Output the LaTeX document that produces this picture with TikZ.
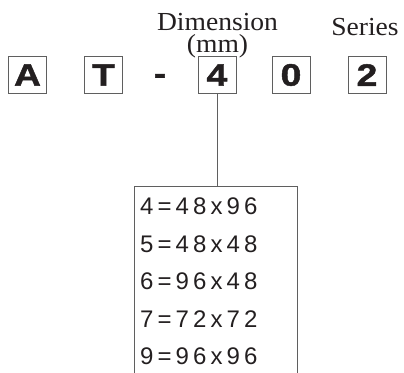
\documentclass[tikz,border=0pt]{standalone}
\usepackage{fontspec}
\setmainfont{Liberation Serif}
\newfontfamily\capfont{Liberation Serif}[FakeStretch=1.06]
\newfontfamily\codefont{Liberation Sans}[BoldFeatures={FakeStretch=1.2,FakeBold=1.5}]
\newfontfamily\listfont{Liberation Sans}[LetterSpace=17]
\definecolor{ink}{RGB}{35,31,32}
\definecolor{rule}{RGB}{95,95,95}
\tikzset{
  codebox/.style={draw=rule, line width=0.8pt, minimum width=38pt, minimum height=36.5pt,
    inner sep=0pt, text=ink, font=\codefont\bfseries\fontsize{31}{34}\selectfont},
  codesep/.style={inner sep=0pt, text=ink, font=\codefont\bfseries\fontsize{31}{34}\selectfont},
  caption/.style={inner sep=0pt, text=ink, align=center, font=\capfont\fontsize{26}{32}\selectfont},
  listnode/.style={inner xsep=6pt, inner ysep=11.8pt, text width=151pt, align=left, text=ink,
    font=\listfont\fontsize{24}{37.5}\selectfont},
  frame/.style={draw=rule, line width=0.8pt},
  link/.style={draw=rule, line width=0.8pt}
}
\begin{document}
\begin{tikzpicture}[x=1pt,y=-1pt]
\useasboundingbox (0,0) rectangle (404,372);
\clip (0,0) rectangle (404,372);
\node[codebox] (cA) at (27.5,75) {A};
\node[codebox] (cT) at (103.5,75) {T};
\node[codesep] (dash) at (160,79) {-};
\node[codebox] (c4) at (217,75) {4};
\node[codebox] (c0) at (291,75) {0};
\node[codebox] (c2) at (367,75) {2};
\node[caption, anchor=north] (dimlab) at (217.5,13.5) {Dimension\\[-10.5pt](mm)};
\node[caption, anchor=base] (serlab) at (365,35) {Series};
\node[listnode, anchor=north west] (dims) at (134,186)
  {4=48x96\\5=48x48\\6=96x48\\7=72x72\\9=96x96};
\coordinate (below) at (0,390);
\draw[frame] (dims.north west |- below) -- (dims.north west) -- (dims.north east) -- (dims.north east |- below);
\draw[link] (c4.south) -- (c4.south |- dims.north);
\end{tikzpicture}
\end{document}
